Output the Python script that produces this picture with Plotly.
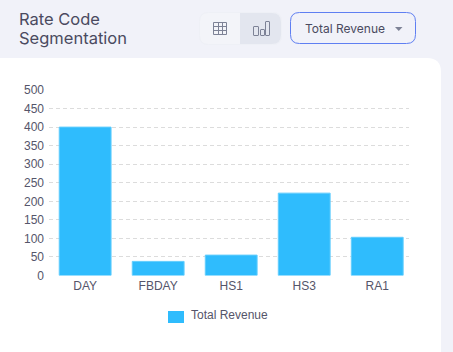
import plotly.graph_objects as go

W, H = 453, 352
categories = ["DAY", "FBDAY", "HS1", "HS3", "RA1"]
revenue = [400, 38, 55, 222, 103]
series_name = "Total Revenue"
y_ticks = [0, 50, 100, 150, 200, 250, 300, 350, 400, 450, 500]
title_lines = ["Rate Code", "Segmentation"]
dropdown_text = "Total Revenue"

PAGE = "#f1f2f9"
INK = "#55556a"
BAR = "#2fbcfd"


def X(p):
    return p / W


def Y(p):
    return 1 - p / H


def rrect(x0, y0, x1, y1, r, fill, line=None, lw=0, corners="tl tr br bl"):
    c = corners.split()
    rt = lambda k: r if k in c else 0
    tl, tr, br, bl = rt("tl"), rt("tr"), rt("br"), rt("bl")
    path = (
        f"M{X(x0 + tl)},{Y(y0)} L{X(x1 - tr)},{Y(y0)} Q{X(x1)},{Y(y0)} {X(x1)},{Y(y0 + tr)} "
        f"L{X(x1)},{Y(y1 - br)} Q{X(x1)},{Y(y1)} {X(x1 - br)},{Y(y1)} "
        f"L{X(x0 + bl)},{Y(y1)} Q{X(x0)},{Y(y1)} {X(x0)},{Y(y1 - bl)} "
        f"L{X(x0)},{Y(y0 + tl)} Q{X(x0)},{Y(y0)} {X(x0 + tl)},{Y(y0)} Z"
    )
    return dict(type="path", xref="paper", yref="paper", path=path, fillcolor=fill,
                line=dict(color=line or "rgba(0,0,0,0)", width=lw), layer="below")


def seg(x0, y0, x1, y1, color="#7d8296", lw=1):
    return dict(type="line", xref="paper", yref="paper", x0=X(x0), y0=Y(y0), x1=X(x1), y1=Y(y1),
                line=dict(color=color, width=lw), layer="below")


def label(text, x, y, size, family="Inter, sans-serif", color="#4a4a60"):
    return dict(text=text, xref="paper", yref="paper", x=X(x), y=Y(y), xanchor="left", yanchor="middle",
                showarrow=False, borderpad=0, font=dict(family=family, size=size, color=color))


shapes = [
    rrect(-12, 58, 441, 380, 14, "#ffffff", corners="tr"),
    rrect(199.5, 12.5, 281.5, 44.5, 9, "#f3f4f9", line="#eef0f6", lw=1),
    rrect(240, 13, 281, 44, 9, "#e3e6ef", corners="tr br"),
    rrect(290.5, 12.5, 415.5, 43.5, 9, "#f1f2f9", line="#5f7ff2", lw=1),
    rrect(168, 311, 184, 323, 0, BAR),
]
for gx in (213.5, 218.5, 222.5, 226.5):
    shapes.append(seg(gx, 22.5, gx, 34.5))
for gy in (22.5, 26.5, 30.5, 34.5):
    shapes.append(seg(213.5, gy, 226.5, gy))
for x0, x1, top in ((253.5, 258.5, 26.5), (260.5, 264.5, 29.5), (265.5, 269.5, 21.5)):
    shapes.append(rrect(x0, top, x1, 35.5, 0.5, "rgba(0,0,0,0)", line="#7d8296", lw=1))
shapes.append(dict(type="path", xref="paper", yref="paper", layer="below",
                   path=f"M{X(395)},{Y(27)} L{X(402.5)},{Y(27)} L{X(398.75)},{Y(31)} Z",
                   fillcolor="#7d8296", line=dict(width=0)))

fig = go.Figure(go.Bar(
    x=categories, y=revenue, name=series_name, width=0.71,
    marker=dict(color=BAR, line=dict(color="#62cdfd", width=1)),
    showlegend=False,
))

fig.update_layout(
    width=W, height=H, autosize=False,
    margin=dict(l=0, r=0, t=0, b=0, autoexpand=False),
    paper_bgcolor=PAGE, plot_bgcolor="rgba(0,0,0,0)",
    font=dict(family="Liberation Sans, Arial, sans-serif", size=12, color=INK),
    shapes=shapes,
    xaxis=dict(domain=[X(49), X(409)], range=[-0.495, 4.435], type="category",
               showgrid=False, zeroline=False, showline=False, ticks="",
               tickfont=dict(size=12, color=INK), ticklabelstandoff=1),
    yaxis=dict(domain=[Y(275.5), Y(90)], range=[0, 500], tickvals=y_ticks,
               showgrid=True, griddash="4px,3px", gridcolor="#dcdcdc", gridwidth=1,
               zeroline=False, showline=False, ticks="",
               tickfont=dict(size=12, color=INK), ticklabelstandoff=4),
    showlegend=False,
    annotations=[
        label(title_lines[0], 17.5, 18.5, 16.5),
        label(title_lines[1], 17.5, 37.5, 16.5),
        label(dropdown_text, 303.5, 28, 12),
        label(series_name, 189.5, 314.5, 12, family="Liberation Sans, Arial, sans-serif", color=INK),
    ],
)

fig.write_html("out.html", config=dict(displayModeBar=False),
               post_script="document.body.style.margin='0';document.body.style.overflow='hidden';document.body.style.background='#f1f2f9';")
